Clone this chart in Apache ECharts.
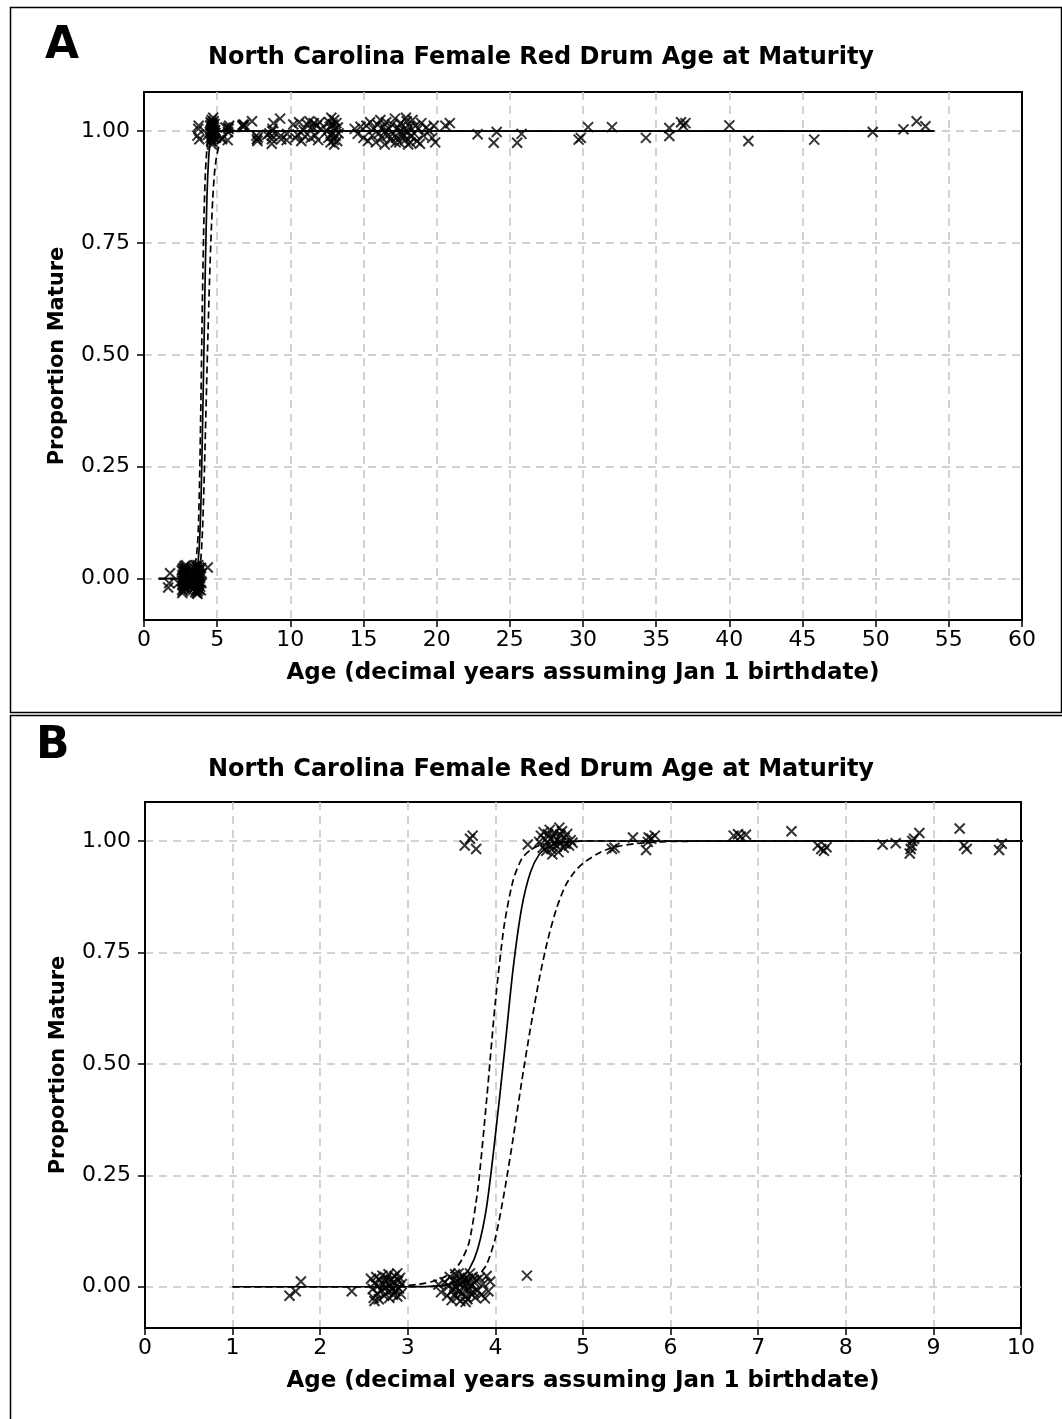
<!DOCTYPE html>
<html>
<head>
<meta charset="utf-8">
<script src="https://cdn.jsdelivr.net/npm/echarts@6/dist/echarts.min.js"></script>
<style>
html,body{margin:0;padding:0;background:#fff;}
#c{width:1062px;height:1419px;}
</style>
</head>
<body>
<div id="c"></div>
<script>
// ---------- data ----------
const titleText = 'North Carolina Female Red Drum Age at Maturity';
const xName = 'Age (decimal years assuming Jan 1 birthdate)';
const yName = 'Proportion Mature';
const yTicks = [0, 0.25, 0.5, 0.75, 1];

// fitted logistic curve and confidence bounds
const fitAge   = [1, 2, 2.5, 2.8, 3.0, 3.1, 3.2, 3.3, 3.4, 3.5, 3.6, 3.7, 3.8, 3.9, 4.0, 4.1, 4.2, 4.3, 4.4, 4.5, 4.6, 4.7, 4.8, 4.9, 5.0, 5.2, 5.4, 5.6, 5.8, 6.0, 7, 10, 20, 54];
const fitMid   = [0, 0, 0, 0, 0, 0.0003, 0.0006, 0.0014, 0.003, 0.007, 0.017, 0.039, 0.086, 0.18, 0.34, 0.52, 0.71, 0.85, 0.93, 0.97, 0.986, 0.994, 0.997, 0.999, 1, 1, 1, 1, 1, 1, 1, 1, 1, 1];
const fitUpper = [0, 0, 0, 0.001, 0.003, 0.005, 0.008, 0.013, 0.02, 0.033, 0.055, 0.1, 0.22, 0.42, 0.64, 0.81, 0.91, 0.96, 0.98, 0.99, 0.995, 0.997, 0.998, 0.999, 1, 1, 1, 1, 1, 1, 1, 1, 1, 1];
const fitLower = [0, 0, 0, 0, 0, 0, 0, 0.001, 0.002, 0.003, 0.006, 0.012, 0.025, 0.05, 0.11, 0.21, 0.33, 0.46, 0.58, 0.69, 0.78, 0.85, 0.9, 0.93, 0.95, 0.975, 0.988, 0.994, 0.997, 0.999, 1, 1, 1, 1];

// immature fish (jittered around 0)
const immature = [
[1.65,-0.020],[1.72,-0.010],[1.78,0.012],[2.36,-0.010],
[2.58,0.018],[2.60,-0.005],[2.61,-0.025],[2.62,0.008],[2.64,0.022],[2.65,-0.015],[2.66,0.002],[2.67,-0.028],[2.68,0.015],[2.70,-0.008],[2.71,0.025],[2.72,0.005],[2.73,-0.020],[2.74,0.012],[2.75,-0.002],[2.76,0.020],[2.77,-0.012],[2.78,0.028],[2.79,-0.025],[2.80,0.004],[2.81,0.016],[2.82,-0.006],[2.83,-0.018],[2.84,0.010],[2.85,0.024],[2.86,-0.010],[2.87,0.002],[2.88,-0.022],[2.89,0.014],[2.90,-0.004],[2.91,0.020],[2.92,-0.016],[2.93,0.006],[2.62,-0.032],[2.88,0.030],
[3.35,0.005],[3.38,-0.012],[3.42,0.010],[3.45,-0.020],[3.47,0.002],[3.48,0.022],[3.50,-0.030],[3.51,-0.008],[3.52,0.015],[3.53,-0.018],[3.54,0.028],[3.55,0.000],[3.56,-0.025],[3.57,0.012],[3.58,-0.010],[3.59,0.020],[3.60,-0.032],[3.61,0.006],[3.62,-0.015],[3.63,0.025],[3.64,-0.004],[3.65,0.016],[3.66,-0.022],[3.67,0.008],[3.68,-0.028],[3.69,0.018],[3.70,-0.006],[3.71,0.030],[3.72,-0.016],[3.73,0.004],[3.74,0.022],[3.75,-0.012],[3.76,0.010],[3.77,-0.024],[3.78,0.014],[3.80,-0.008],[3.82,0.020],[3.84,-0.018],[3.86,0.006],[3.88,-0.026],[3.90,0.024],[3.92,-0.010],[3.94,0.012],[3.58,0.030],[3.66,-0.034],[3.72,0.002],[3.52,-0.005],[3.62,0.010],
[4.36,0.025]
];

// mature fish (jittered around 1)
const mature = [
[3.65,0.990],[3.71,1.005],[3.74,1.012],[3.78,0.982],[4.37,0.992],
[4.50,0.998],[4.52,1.012],[4.54,0.985],[4.55,1.020],[4.57,1.003],[4.58,0.978],[4.60,1.015],[4.61,0.992],[4.62,1.025],[4.63,1.005],[4.64,0.982],[4.66,1.010],[4.67,0.995],[4.68,1.018],[4.70,0.988],[4.71,1.003],[4.72,0.975],[4.74,1.014],[4.75,0.996],[4.76,1.022],[4.78,0.985],[4.79,1.008],[4.80,0.994],[4.82,1.016],[4.84,0.990],[4.86,1.002],[4.88,0.996],[4.65,0.970],[4.73,1.030],
[5.33,0.982],[5.36,0.985],[5.57,1.008],[5.72,0.980],[5.74,0.998],[5.78,1.005],[5.82,1.012],[5.75,1.008],
[6.72,1.012],[6.77,1.015],[6.80,1.010],[6.86,1.014],[7.38,1.022],
[7.68,0.990],[7.72,0.982],[7.75,0.978],[7.78,0.986],
[8.42,0.992],[8.57,0.995],[8.73,0.972],[8.74,0.982],[8.75,0.990],[8.76,1.000],[8.78,1.005],[8.84,1.018],
[9.30,1.028],[9.35,0.990],[9.38,0.982],[9.75,0.980],[9.78,0.994],
[10.2,1.015],[10.35,0.985],[10.5,0.992],[10.6,1.020],[10.75,0.978],[10.9,1.002],[11.0,0.988],
[11.15,1.015],[11.3,1.022],[11.4,0.985],[11.5,1.010],[11.6,1.018],[11.7,0.990],[11.8,1.012],[11.9,0.980],[12.0,1.020],[12.1,1.005],
[12.5,1.000],[12.6,0.985],[12.65,1.020],[12.7,1.010],[12.75,0.975],[12.8,1.030],[12.85,0.995],[12.9,1.015],[12.95,0.980],[13.0,1.025],[13.05,1.005],[13.1,0.990],[13.15,1.018],[13.2,0.978],[13.25,1.008],[13.3,0.995],[13.0,0.970],[12.8,0.990],
[14.4,1.005],[14.6,0.994],[14.8,1.010],[15.0,0.985],
[15.2,1.012],[15.3,0.978],[15.45,1.020],[15.6,0.990],[15.7,1.005],[15.85,0.975],[15.95,1.015],[16.05,0.995],[16.15,1.025],[16.25,0.985],[16.35,1.010],[16.45,0.970],[16.55,1.020],[16.65,0.990],[16.75,1.005],[16.85,0.980],[16.95,1.015],[17.05,0.995],[17.15,1.028],[17.25,0.985],[17.35,1.008],[17.45,0.975],[17.55,1.018],[17.65,0.992],[17.75,1.003],[17.85,0.980],[17.95,1.022],[18.05,0.970],[18.15,1.010],[18.25,0.988],[18.35,1.025],[18.45,0.995],[18.55,1.012],[18.65,0.978],[18.75,1.005],[18.85,0.972],[18.95,1.018],[19.1,0.990],[19.3,1.008],[19.5,1.000],[19.7,0.985],[19.8,1.012],[19.9,0.975],[17.5,1.000],[17.8,0.990],[18.0,1.000],[17.2,0.975],[16.5,1.000],[17.9,1.030],[18.2,0.975],
[20.6,1.012],[20.9,1.018],
[22.8,0.993],[23.9,0.974],[24.1,0.998],[25.5,0.974],[25.8,0.994],[29.7,0.981],[29.85,0.985],[30.35,1.009],[31.98,1.009],[34.3,0.985],[35.9,1.007],[35.9,0.989],[36.7,1.020],[36.85,1.012],[37.0,1.018],[40.0,1.013],[41.3,0.978],[45.8,0.981],[49.8,0.998],[51.9,1.004],[52.8,1.022],[53.4,1.011]
];

// ---------- chart ----------
const FONT = 'DejaVu Sans';
const pair = (ys) => fitAge.map((a, i) => [a, ys[i]]);
const cross = 'path://M0,0L10,10M10,0L0,10';

function makeX(gi, max, interval) {
  return {
    gridIndex: gi, type: 'value', min: 0, max: max, interval: interval,
    axisLine: {show: true, onZero: false, lineStyle: {color: '#000', width: 2}},
    axisTick: {show: true, inside: false, length: 7, lineStyle: {color: '#000', width: 1.5}},
    axisLabel: {fontSize: 22, color: '#000', margin: 9, fontFamily: FONT},
    splitLine: {show: true, showMinLine: false, showMaxLine: false, lineStyle: {color: '#c4c4c4', type: [8, 6], width: 1.5}},
    name: xName, nameLocation: 'middle', nameGap: 42,
    nameTextStyle: {fontSize: 23, fontWeight: 'bold', color: '#000', fontFamily: FONT}
  };
}
function makeY(gi) {
  return {
    gridIndex: gi, type: 'value', min: -0.0925, max: 1.0875,
    axisLine: {show: true, onZero: false, lineStyle: {color: '#000', width: 2}},
    axisTick: {show: true, inside: false, length: 7, customValues: yTicks, lineStyle: {color: '#000', width: 1.5}},
    axisLabel: {customValues: yTicks, formatter: v => Number(v).toFixed(2), fontSize: 22, color: '#000', margin: 14, fontFamily: FONT},
    splitLine: {show: true, lineStyle: {color: '#c4c4c4', type: [8, 6], width: 1.5}},
    name: yName, nameLocation: 'middle', nameGap: 76,
    nameTextStyle: {fontSize: 21, fontWeight: 'bold', color: '#000', fontFamily: FONT}
  };
}
function lineSeries(gi, ys, dashed, clip) {
  return {
    type: 'line', xAxisIndex: gi, yAxisIndex: gi, data: pair(ys),
    showSymbol: false, symbol: 'none', smooth: 0.25, clip: clip, silent: true,
    lineStyle: {color: '#000', width: 1.7, type: dashed ? [7, 4] : 'solid'},
    z: 3
  };
}
function scatterSeries(gi, data) {
  return {
    type: 'scatter', xAxisIndex: gi, yAxisIndex: gi, data: data,
    symbol: cross, symbolSize: 10, clip: true, silent: true,
    itemStyle: {color: 'rgba(0,0,0,0)', borderColor: '#000', borderWidth: 2},
    z: 4
  };
}

const chart = echarts.init(document.getElementById('c'), null, {renderer: 'canvas'});
chart.setOption({
  animation: false,
  backgroundColor: '#fff',
  grid: [
    {left: 144, top: 92, width: 878, height: 528, show: true, borderColor: '#000', borderWidth: 2, backgroundColor: 'transparent'},
    {left: 145, top: 802, width: 876, height: 526, show: true, borderColor: '#000', borderWidth: 2, backgroundColor: 'transparent'}
  ],
  xAxis: [makeX(0, 60, 5), makeX(1, 10, 1)],
  yAxis: [makeY(0), makeY(1)],
  series: [
    lineSeries(0, fitMid, false, true),
    lineSeries(0, fitUpper, true, true),
    lineSeries(0, fitLower, true, true),
    scatterSeries(0, immature),
    scatterSeries(0, mature),
    lineSeries(1, fitMid, false, false),
    lineSeries(1, fitUpper, true, false),
    lineSeries(1, fitLower, true, false),
    scatterSeries(1, immature),
    scatterSeries(1, mature)
  ],
  graphic: [
    {type: 'rect', shape: {x: 10.5, y: 7.5, width: 1051, height: 705}, style: {fill: 'none', stroke: '#000', lineWidth: 1.5}, z: 1},
    {type: 'rect', shape: {x: 10.5, y: 715.5, width: 1100, height: 800}, style: {fill: 'none', stroke: '#000', lineWidth: 1.5}, z: 1},
    {type: 'text', x: 45, y: 47, style: {text: 'A', font: 'bold 44px "DejaVu Sans"', fill: '#000', align: 'left', verticalAlign: 'middle', textAlign: 'left', textVerticalAlign: 'middle'}},
    {type: 'text', x: 36, y: 747, style: {text: 'B', font: 'bold 44px "DejaVu Sans"', fill: '#000', align: 'left', verticalAlign: 'middle', textAlign: 'left', textVerticalAlign: 'middle'}},
    {type: 'text', x: 541, y: 58, style: {text: titleText, font: 'bold 24px "DejaVu Sans"', fill: '#000', align: 'center', verticalAlign: 'middle', textAlign: 'center', textVerticalAlign: 'middle'}},
    {type: 'text', x: 541, y: 770, style: {text: titleText, font: 'bold 24px "DejaVu Sans"', fill: '#000', align: 'center', verticalAlign: 'middle', textAlign: 'center', textVerticalAlign: 'middle'}}
  ]
});
</script>
</body>
</html>
